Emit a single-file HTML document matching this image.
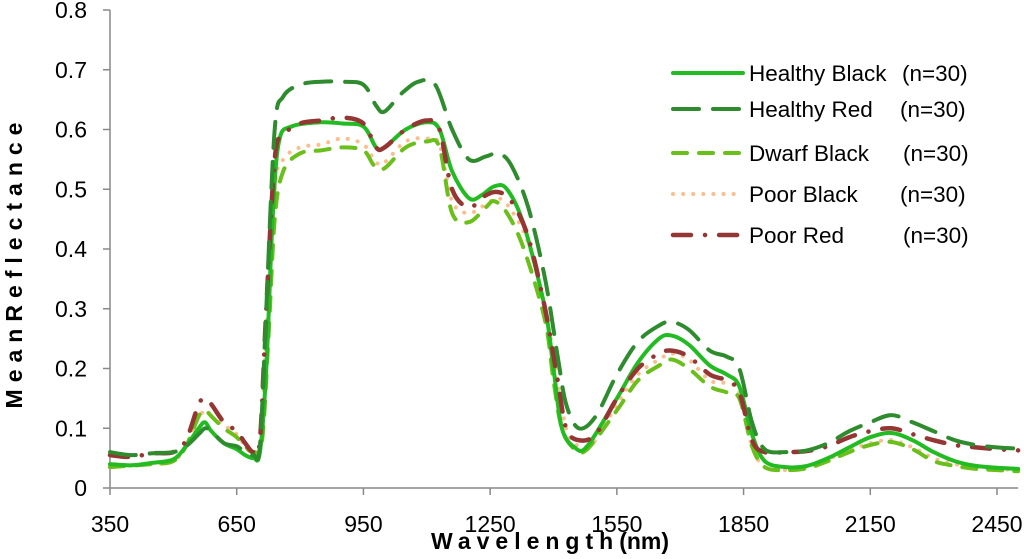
<!DOCTYPE html>
<html><head><meta charset="utf-8"><style>
body{margin:0;background:#fff;}
svg text{font-family:"Liberation Sans",sans-serif;fill:#000;}
</style></head><body>
<svg id="chart" width="1024" height="554" viewBox="0 0 1024 554" xmlns="http://www.w3.org/2000/svg">
<g id="axes"></g>
<g id="series"></g>
<g id="legend"></g>
<text transform="translate(22,262) rotate(-90)" text-anchor="middle" font-size="23" font-weight="bold" letter-spacing="7">MeanReflectance</text>
<text x="550" y="549" text-anchor="middle" font-size="23" font-weight="bold"><tspan letter-spacing="6">Wavelength</tspan>(nm)</text>
</svg>
<script>
const xTicks=[350,650,950,1250,1550,1850,2150,2450];
const yTicks=[0,0.1,0.2,0.3,0.4,0.5,0.6,0.7,0.8];
const yTickLabels=["0","0.1","0.2","0.3","0.4","0.5","0.6","0.7","0.8"];
const seriesNames=["Healthy Black","Healthy Red","Dwarf Black","Poor Black","Poor Red"];
const wlHB=[350,400,450,500,530,560,575,590,620,650,670,690,705,720,735,750,780,850,900,950,980,1000,1050,1100,1130,1160,1200,1230,1260,1290,1330,1380,1400,1420,1450,1480,1550,1600,1650,1680,1720,1770,1810,1840,1870,1900,1950,2000,2050,2100,2150,2200,2250,2300,2350,2400,2450,2500];
const valHB=[0.04,0.038,0.042,0.048,0.07,0.10,0.11,0.095,0.075,0.065,0.055,0.05,0.06,0.2,0.45,0.58,0.605,0.612,0.61,0.605,0.57,0.57,0.6,0.612,0.6,0.53,0.485,0.49,0.505,0.5,0.44,0.3,0.2,0.1,0.068,0.07,0.15,0.21,0.25,0.255,0.24,0.205,0.19,0.17,0.09,0.045,0.035,0.037,0.05,0.068,0.085,0.092,0.08,0.06,0.045,0.037,0.034,0.032];
const wlHR=[350,400,450,500,530,560,575,590,620,650,670,690,705,720,740,760,800,850,900,950,980,1000,1040,1080,1120,1160,1200,1240,1270,1300,1340,1380,1410,1430,1460,1500,1550,1600,1650,1680,1720,1770,1810,1840,1870,1900,1950,2000,2050,2100,2150,2200,2250,2300,2350,2400,2450,2500];
const valHR=[0.06,0.055,0.058,0.06,0.07,0.09,0.1,0.095,0.075,0.07,0.06,0.055,0.07,0.3,0.6,0.655,0.675,0.68,0.68,0.675,0.64,0.63,0.66,0.68,0.675,0.6,0.55,0.555,0.56,0.54,0.47,0.35,0.22,0.14,0.1,0.12,0.19,0.245,0.272,0.278,0.265,0.23,0.22,0.2,0.11,0.065,0.06,0.063,0.075,0.095,0.11,0.122,0.11,0.095,0.08,0.072,0.068,0.066];
const wlDB=[350,450,500,530,560,575,590,620,650,670,690,710,725,740,760,800,850,900,950,975,1000,1050,1100,1130,1160,1200,1240,1260,1290,1330,1380,1400,1420,1450,1480,1550,1600,1650,1680,1720,1770,1810,1840,1870,1900,1950,2000,2050,2100,2150,2200,2250,2300,2350,2400,2450,2500];
const valDB=[0.035,0.04,0.045,0.07,0.12,0.13,0.12,0.1,0.085,0.07,0.06,0.08,0.25,0.45,0.53,0.56,0.565,0.57,0.565,0.54,0.535,0.57,0.58,0.57,0.46,0.445,0.47,0.48,0.46,0.4,0.28,0.18,0.1,0.065,0.065,0.13,0.18,0.205,0.215,0.2,0.17,0.16,0.15,0.07,0.035,0.03,0.033,0.045,0.06,0.072,0.077,0.065,0.045,0.037,0.032,0.03,0.028];
const wlPB=[350,450,500,530,560,575,590,620,650,670,690,705,720,740,760,800,850,900,950,980,1000,1050,1100,1130,1160,1200,1240,1270,1300,1340,1380,1410,1430,1460,1500,1550,1600,1650,1680,1720,1770,1810,1840,1870,1900,1950,2000,2050,2100,2150,2200,2250,2300,2350,2400,2450,2500];
const valPB=[0.035,0.04,0.045,0.07,0.12,0.125,0.12,0.105,0.09,0.07,0.055,0.07,0.25,0.5,0.55,0.57,0.575,0.585,0.575,0.545,0.545,0.58,0.585,0.575,0.48,0.46,0.475,0.485,0.465,0.41,0.3,0.18,0.1,0.07,0.08,0.14,0.19,0.215,0.225,0.215,0.18,0.175,0.16,0.07,0.035,0.03,0.035,0.048,0.063,0.075,0.08,0.068,0.05,0.04,0.035,0.032,0.03];
const wlPR=[350,400,450,500,530,560,575,590,620,650,670,690,705,720,740,760,800,850,900,950,980,1000,1050,1100,1130,1160,1200,1240,1270,1300,1340,1380,1410,1430,1460,1500,1550,1600,1650,1680,1720,1770,1810,1840,1870,1900,1950,2000,2050,2100,2150,2200,2250,2300,2350,2400,2450,2500];
const valPR=[0.055,0.052,0.058,0.06,0.08,0.14,0.15,0.14,0.11,0.095,0.075,0.06,0.08,0.3,0.55,0.59,0.61,0.615,0.62,0.61,0.57,0.57,0.6,0.615,0.6,0.5,0.47,0.49,0.495,0.48,0.42,0.3,0.18,0.1,0.08,0.09,0.15,0.2,0.225,0.23,0.22,0.19,0.18,0.16,0.08,0.06,0.06,0.062,0.07,0.085,0.095,0.1,0.09,0.08,0.072,0.068,0.065,0.063];

const NS="http://www.w3.org/2000/svg";
const X0=110,Y0=488;
function xs(w){return X0+(w-350)*(887/2100);}
function ys(v){return Y0-v*597.5;}
function mk(t,a,p){const e=document.createElementNS(NS,t);for(const k in a)e.setAttribute(k,a[k]);p.appendChild(e);return e;}
function smooth(P){
  let d='M'+P[0][0].toFixed(1)+','+P[0][1].toFixed(1);
  for(let i=0;i<P.length-1;i++){
    const p0=P[i-1]||P[i],p1=P[i],p2=P[i+1],p3=P[i+2]||P[i+1];
    const c1=[p1[0]+(p2[0]-p0[0])/6,p1[1]+(p2[1]-p0[1])/6];
    const c2=[p2[0]-(p3[0]-p1[0])/6,p2[1]-(p3[1]-p1[1])/6];
    d+=' C'+c1.map(n=>n.toFixed(1)).join(',')+' '+c2.map(n=>n.toFixed(1)).join(',')+' '+p2[0].toFixed(1)+','+p2[1].toFixed(1);
  }
  return d;
}
const axes=document.getElementById('axes');
const yl=mk('line',{x1:X0,y1:ys(0.8),x2:X0,y2:Y0,stroke:'#888','stroke-width':1.5},axes);


const xl=mk('line',{x1:X0,y1:Y0,x2:xs(2500),y2:Y0,stroke:'#888','stroke-width':1.5},axes);


yTicks.forEach((v,i)=>{
  mk('line',{x1:X0-7,y1:ys(v),x2:X0,y2:ys(v),stroke:'#888','stroke-width':1.5},axes);
  const t=mk('text',{x:87,y:ys(v)+8,'text-anchor':'end','font-size':23},axes);
  
  
  t.textContent=yTickLabels[i];
});
xTicks.forEach(w=>{
  mk('line',{x1:xs(w),y1:Y0,x2:xs(w),y2:Y0+7,stroke:'#888','stroke-width':1.5},axes);
  const t=mk('text',{x:xs(w),y:532,'text-anchor':'middle','font-size':23},axes);
  
  
  t.textContent=w;
});
const styles=[
 {c:'#22bb22',w:4,d:''},
 {c:'#2e8b2e',w:4,d:'26 14'},
 {c:'#6abf1a',w:4,d:'14 12'},
 {c:'#f9bf8f',w:4,d:'0.1 10'},
 {c:'#943634',w:4.5,d:'18 14 0.1 14'}
];
const wls=[wlHB,wlHR,wlDB,wlPB,wlPR],vals=[valHB,valHR,valDB,valPB,valPR];
const sg=document.getElementById('series');
const order=[3,2,0,4,1];
order.forEach(i=>{
  const P=wls[i].map((w,j)=>[xs(w),ys(vals[i][j])]);
  const p=mk('path',{d:smooth(P),fill:'none',stroke:styles[i].c,'stroke-width':styles[i].w,'stroke-dasharray':styles[i].d,'stroke-linecap':'round','stroke-linejoin':'round'},sg);
  
  
});
const lg=document.getElementById('legend');
const ly=[73,109,153,194,235];
const nx=[902,900,903,900,903];
seriesNames.forEach((n,i)=>{
  const g=mk('g',{},lg);
  
  
  mk('line',{x1:673,y1:ly[i],x2:743,y2:ly[i],stroke:styles[i].c,'stroke-width':styles[i].w,'stroke-dasharray':styles[i].d,'stroke-linecap':'round'},g);
  const t=mk('text',{x:749,y:ly[i]+8,'font-size':22.5},g);
  t.textContent=n;
  const t2=mk('text',{x:nx[i],y:ly[i]+8,'font-size':22.5},g);
  t2.textContent='(n=30)';
});
</script>
</body></html>
